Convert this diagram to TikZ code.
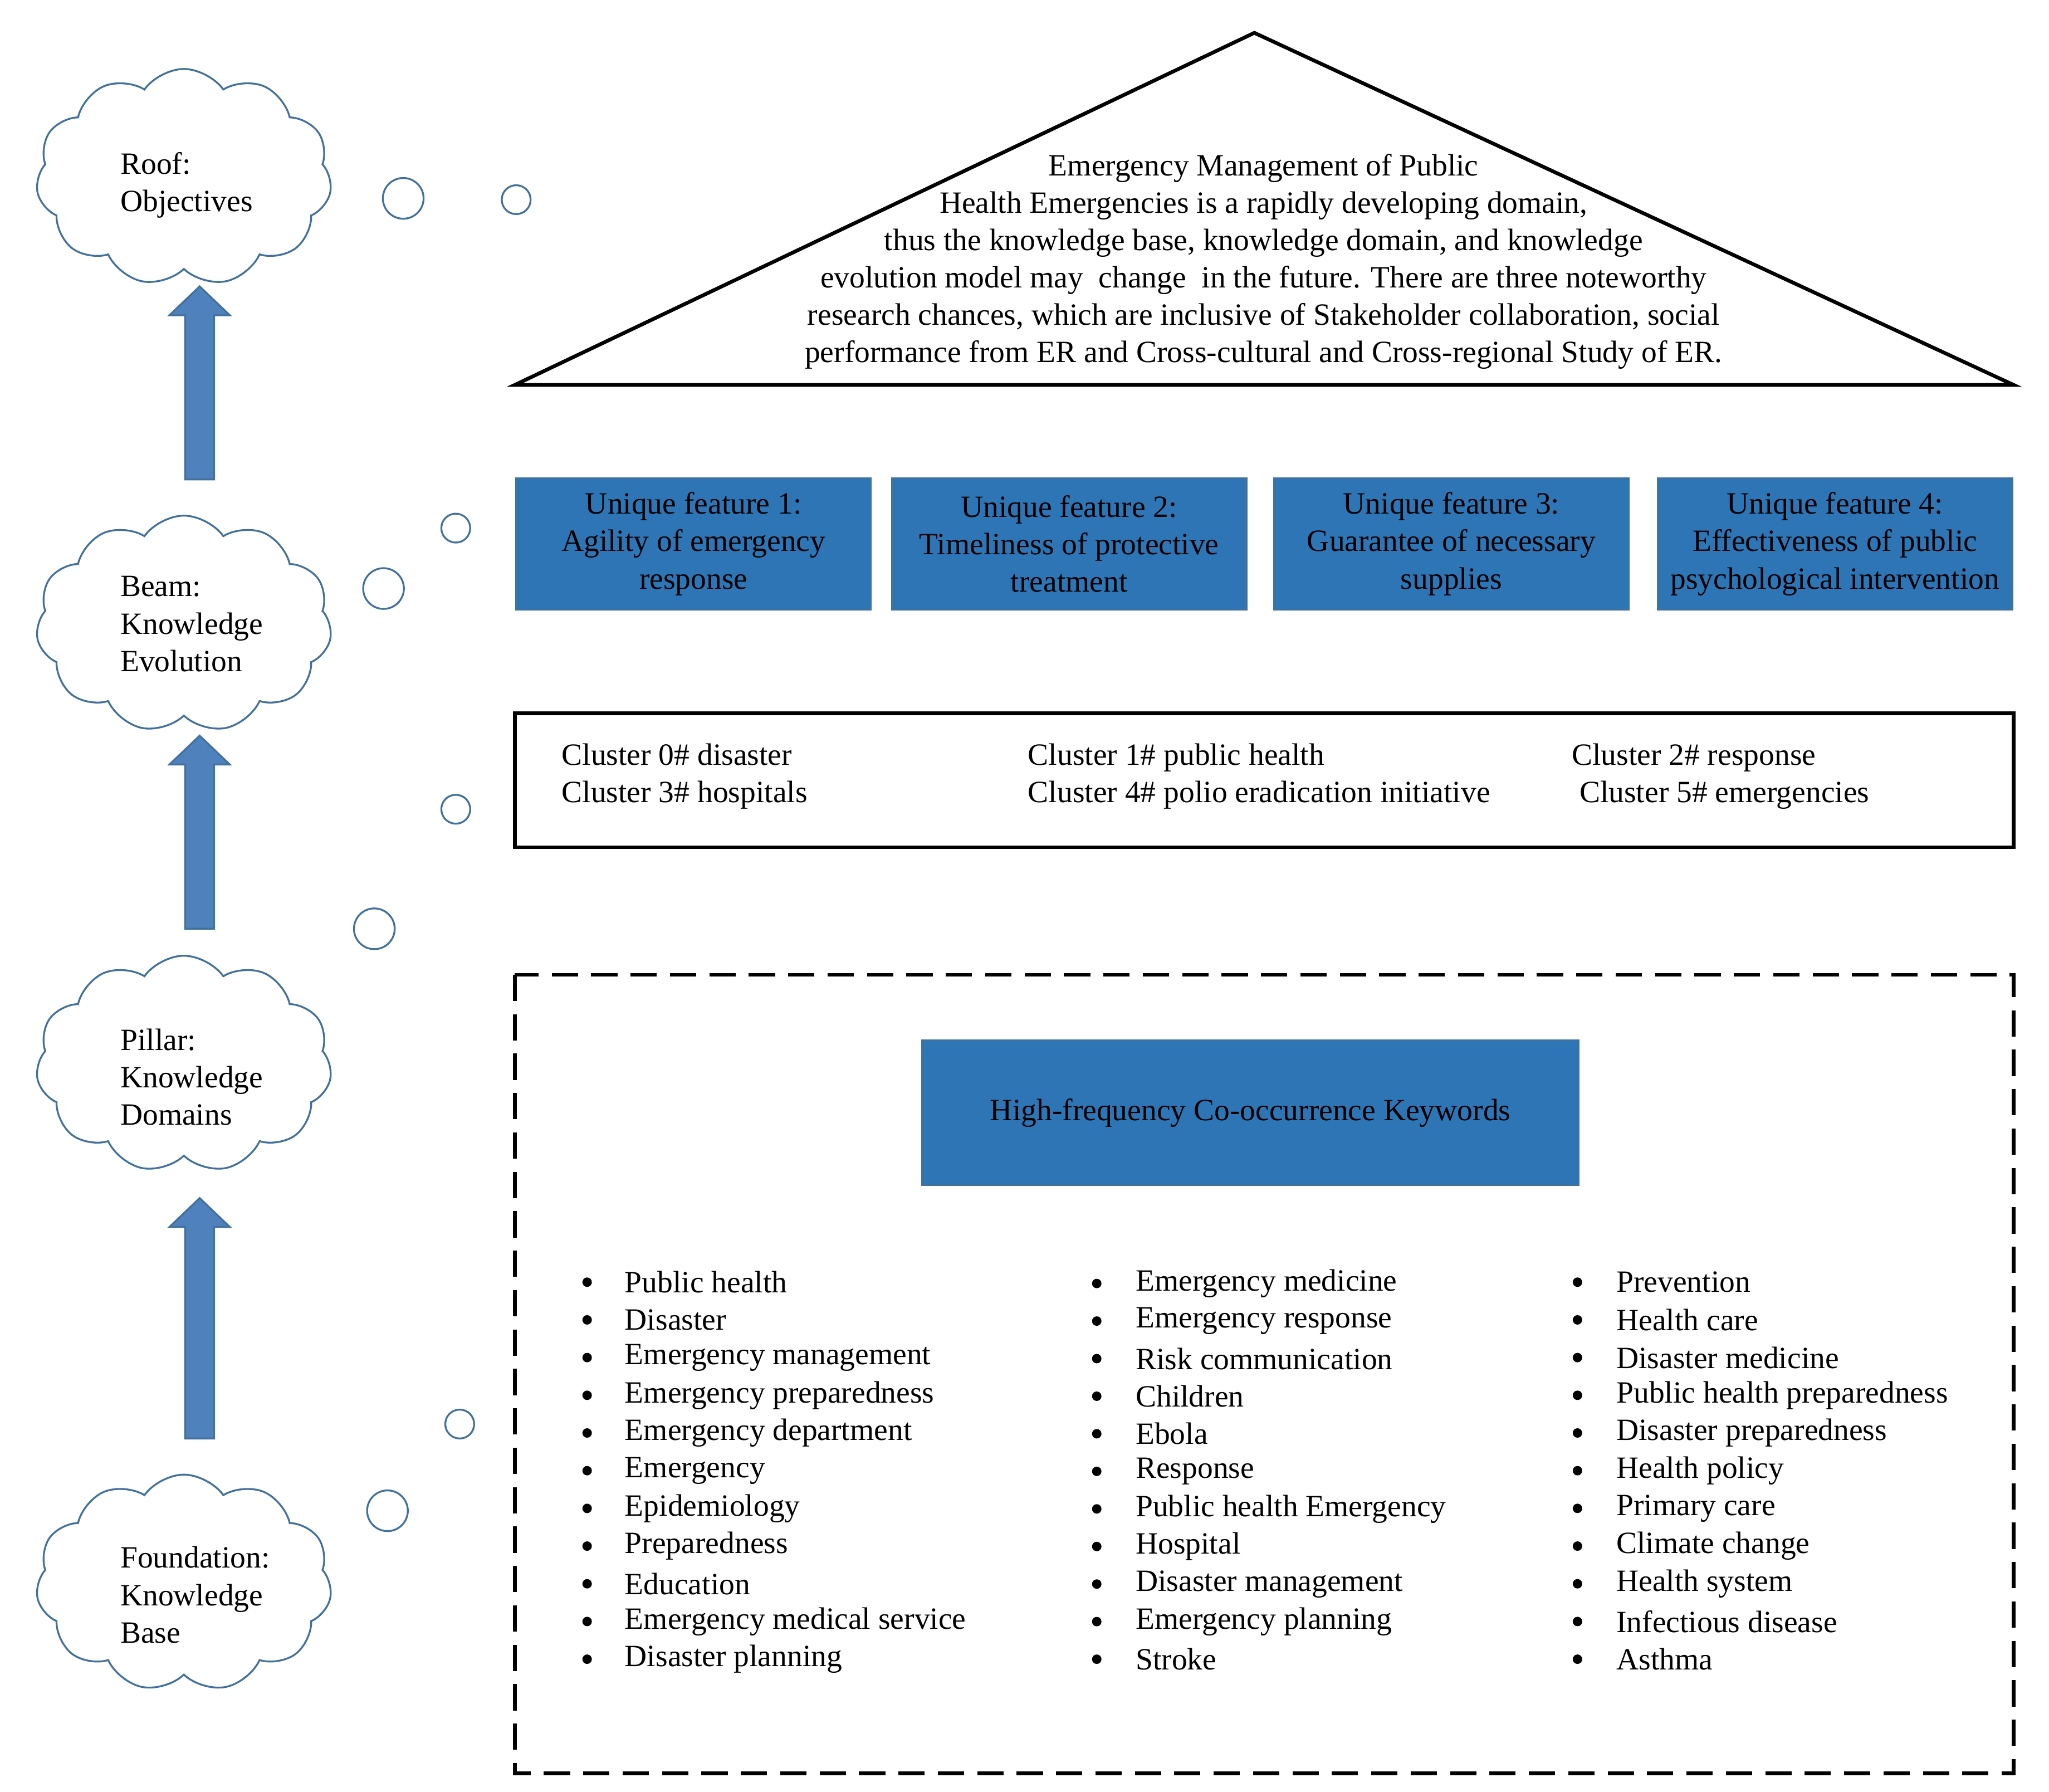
\documentclass[tikz,border=0pt]{standalone}
\usepackage{fontspec}
\setmainfont{Liberation Serif}
\usetikzlibrary{shapes.symbols}
\definecolor{featblue}{HTML}{2E75B6}
\definecolor{featedge}{HTML}{41719C}
\definecolor{arrblue}{HTML}{4F81BD}
\begin{document}
\begin{tikzpicture}[x=0.1mm,y=-0.1mm,
  txt/.style={font=\fontsize{6.7}{8.1}\selectfont, align=center},
  thought/.style={cloud, cloud puffs=11, cloud puff arc=110, aspect=1.35, draw=featedge, thin,
    minimum width=22.5mm, minimum height=16.5mm, inner sep=0pt},
  bubble/.style={circle, draw=featedge, thin, inner sep=0pt},
  feat/.style={draw=featedge, fill=featblue, thin, minimum width=27mm, minimum height=10mm,
    txt, inner sep=0pt},
  item/.style={font=\fontsize{6.7}{8.1}\selectfont, anchor=west, inner sep=0pt}]
\useasboundingbox (0,0) rectangle (1560,1364);

% clouds
\node[thought] (c1) at (140,135) {};
\node[txt, align=left, anchor=west, inner sep=0pt] (l1) at (91,141) {Roof:\\Objectives};
\node[thought] (c2) at (140,475) {};
\node[txt, align=left, anchor=west, inner sep=0pt] (l2) at (91,475) {Beam:\\Knowledge\\Evolution};
\node[thought] (c3) at (140,810) {};
\node[txt, align=left, anchor=west, inner sep=0pt] (l3) at (91,820) {Pillar:\\Knowledge\\Domains};
\node[thought] (c4) at (140,1205) {};
\node[txt, align=left, anchor=west, inner sep=0pt] (l4) at (91,1214) {Foundation:\\Knowledge\\Base};

% bubbles
\node[bubble, minimum size=3.1mm] (b1) at (307,151) {};
\node[bubble, minimum size=2.2mm] (b2) at (393,152) {};
\node[bubble, minimum size=2.2mm] (b3) at (347,402) {};
\node[bubble, minimum size=3.1mm] (b4) at (292,448) {};
\node[bubble, minimum size=2.2mm] (b5) at (347,616) {};
\node[bubble, minimum size=3.1mm] (b6) at (285,707) {};
\node[bubble, minimum size=2.2mm] (b7) at (350,1084) {};
\node[bubble, minimum size=3.1mm] (b8) at (295,1150) {};

% arrows
\foreach \yb/\yt in {365/218, 707/560, 1095/912}{
  \fill[arrblue, draw=featedge] (141,\yb) -- (141,\yt+22) -- (129,\yt+22) -- (152,\yt)
    -- (175,\yt+22) -- (163,\yt+22) -- (163,\yb) -- cycle;
}

% roof
\draw[thick] (392,293) -- (955,25) -- (1533,293) -- cycle;
\node[txt] (roof) at (962,199) {Emergency Management of Public\\
Health Emergencies is a rapidly developing domain,\\
thus the knowledge base, knowledge domain, and knowledge\\
evolution model may\ \ change\ \ in the future. There are three noteworthy\\
research chances, which are inclusive of Stakeholder collaboration, social\\
performance from ER and Cross-cultural and Cross-regional Study of ER.};

% features
\node[feat] (f1) at (528,414) {Unique feature 1:\\Agility of emergency\\response};
\node[feat] (f2) at (814,414) {Unique feature 2:\\Timeliness of protective\\treatment};
\node[feat] (f3) at (1105,414) {Unique feature 3:\\Guarantee of necessary\\supplies};
\node[feat] (f4) at (1397,414) {Unique feature 4:\\Effectiveness of public\\psychological intervention};

% clusters
\draw[thick] (392,543) rectangle (1533,645);
\node[item, align=left] (k1) at (427,591) {Cluster 0\# disaster\\Cluster 3\# hospitals};
\node[item, align=left] (k2) at (782,591) {Cluster 1\# public health\\Cluster 4\# polio eradication initiative};
\node[item, align=left] (k3) at (1196,591) {Cluster 2\# response\\\ Cluster 5\# emergencies};

% keywords
\draw[thick, dash pattern=on 2mm off 1mm] (392,742) rectangle (1533,1350);
\node[draw=featedge, fill=featblue, thin, minimum width=50mm, minimum height=11mm, txt] (kw)
  at (952,847) {High-frequency Co-occurrence Keywords};

\foreach \t [count=\i] in {Public health, Disaster, Emergency management, Emergency preparedness,
  Emergency department, Emergency, Epidemiology, Preparedness, Education,
  Emergency medical service, Disaster planning}{
  \node[item] (a\i) at (475,976+28.7*\i-28.7) {\t};
  \fill (447,976+28.7*\i-28.7) circle (3.6);
}
\foreach \t [count=\i] in {Emergency medicine, Emergency response, Risk communication, Children,
  Ebola, Response, Public health Emergency, Hospital, Disaster management,
  Emergency planning, Stroke}{
  \node[item] (m\i) at (864,977+28.6*\i-28.6) {\t};
  \fill (835,977+28.6*\i-28.6) circle (3.6);
}
\foreach \t [count=\i] in {Prevention, Health care, Disaster medicine, Public health preparedness,
  Disaster preparedness, Health policy, Primary care, Climate change, Health system,
  Infectious disease, Asthma}{
  \node[item] (r\i) at (1230,976+28.7*\i-28.7) {\t};
  \fill (1201,976+28.7*\i-28.7) circle (3.6);
}
\end{tikzpicture}
\end{document}
